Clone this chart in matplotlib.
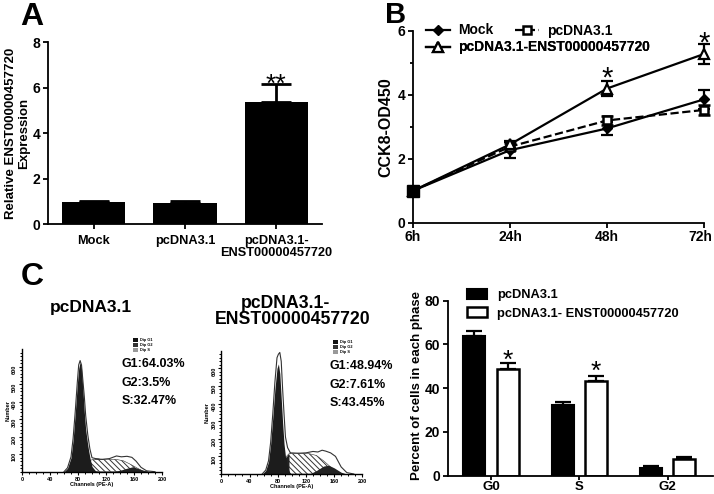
import matplotlib
matplotlib.use('Agg')
import matplotlib.pyplot as plt
from matplotlib.transforms import ScaledTranslation

plt.rcParams['font.family'] = ['Liberation Sans', 'DejaVu Sans']
plt.rcParams['font.weight'] = 'bold'
plt.rcParams['axes.labelweight'] = 'bold'
plt.rcParams['hatch.linewidth'] = 0.7

W, H = 714, 494

# panel A
a_labels = ['Mock', 'pcDNA3.1', 'pcDNA3.1-\nENST00000457720']
a_vals = [1.0, 0.95, 5.4]
a_errs = [0.05, 0.07, 0.78]

# panel B
b_times = ['6h', '24h', '48h', '72h']
mock_vals = [1.0, 2.27, 2.95, 3.86]
mock_errs = [0.05, 0.25, 0.2, 0.3]
pc_vals = [1.0, 2.38, 3.2, 3.53]
pc_errs = [0.05, 0.12, 0.15, 0.15]
enst_vals = [1.0, 2.45, 4.2, 5.28]
enst_errs = [0.05, 0.1, 0.22, 0.3]

# panel C bars
c_phases = ['G0', 'S', 'G2']
c_pc = [64, 32.5, 3.5]
c_pc_err = [2, 1.3, 0.8]
c_enst = [49, 43.5, 7.5]
c_enst_err = [2.5, 2.3, 1]

# histogram left
h1_ch = [60, 65, 70, 73, 76, 79, 81, 83, 85, 87, 89, 91, 94, 97, 100, 105, 110]
h1_g1 = [0, 20, 80, 180, 330, 500, 590, 625, 590, 470, 340, 240, 150, 80, 30, 5, 0]
h1_out = [0, 22, 85, 190, 340, 510, 610, 635, 610, 520, 430, 320, 210, 130, 80, 75, 72]
h1_s_ch = [75, 82, 90, 97, 105, 120, 135, 145, 155, 165, 172, 180]
h1_s = [0, 8, 35, 65, 72, 72, 70, 62, 42, 20, 5, 0]
h1_g2_ch = [130, 140, 150, 158, 165, 175, 185]
h1_g2 = [0, 8, 20, 28, 20, 5, 0]
h1_top_ch = [105, 115, 125, 135, 142, 150, 157, 163, 170, 178, 190]
h1_top = [72, 70, 75, 90, 85, 88, 82, 60, 25, 5, 0]
h1_text = ['G1:64.03%', 'G2:3.5%', 'S:32.47%']

# histogram right
h2_ch = [58, 63, 67, 70, 73, 76, 79, 81, 83, 85, 87, 89, 91, 94, 98]
h2_g1 = [0, 20, 70, 170, 320, 480, 600, 625, 570, 430, 290, 170, 100, 40, 0]
h2_out = [0, 22, 75, 180, 340, 520, 660, 680, 690, 640, 480, 340, 210, 150, 120]
h2_s_ch = [72, 78, 84, 90, 96, 110, 125, 135, 145, 155, 165, 172]
h2_s = [0, 15, 50, 90, 115, 118, 115, 105, 75, 40, 12, 0]
h2_g2_ch = [125, 135, 145, 152, 160, 170, 178]
h2_g2 = [0, 20, 45, 50, 35, 10, 0]
h2_top_ch = [98, 110, 120, 130, 137, 143, 148, 155, 162, 170, 178, 188]
h2_top = [120, 118, 120, 128, 125, 135, 130, 120, 100, 40, 8, 0]
h2_text = ['G1:48.94%', 'G2:7.61%', 'S:43.45%']

fig = plt.figure(figsize=(W / 100, H / 100), dpi=100, facecolor='white')


def px_axes(left, top, right, bottom):
    ax = fig.add_axes([left / W, 1 - bottom / H, (right - left) / W, (bottom - top) / H])
    ax.patch.set_alpha(0)
    for s in ['top', 'right']:
        ax.spines[s].set_visible(False)
    for s in ['left', 'bottom']:
        ax.spines[s].set_linewidth(1.3)
    ax.tick_params(width=1.3, length=3.5, labelsize=9, pad=2)
    return ax


def px_text(x, y, s, **kw):
    fig.text(x / W, 1 - y / H, s, **kw)


# A
ax = px_axes(48, 42.3, 322, 224.5)
ax.bar(range(3), a_vals, width=0.69, color='black')
ax.errorbar(range(3), a_vals, yerr=[[0, 0, 0], a_errs], fmt='none', ecolor='black',
            elinewidth=2, capsize=11, capthick=2)
ax.set_xlim(-0.5, 2.5)
ax.set_ylim(0, 8)
ax.set_yticks([0, 2, 4, 6, 8])
ax.set_xticks(range(3))
ax.set_xticklabels(a_labels, fontsize=9.2, linespacing=1.0)
ax.tick_params(axis='x', pad=4)
ax.tick_params(axis='y', labelsize=10)
ax.set_ylabel('Relative ENST00000457720\nExpression', fontsize=9.5, linespacing=1.05, labelpad=2)
ax.text(2, 6.15, '**', ha='center', va='center', fontsize=19, fontweight='normal')

# B
ax = px_axes(413, 31, 704, 222.7)
x = range(4)
mock_line = ax.errorbar(x, mock_vals, yerr=mock_errs, color='black', lw=1.6, marker='D', ms=5,
                        capsize=4, capthick=1.6, elinewidth=1.6, clip_on=False, zorder=3)
pc_line = ax.errorbar(x, pc_vals, yerr=pc_errs, color='black', lw=1.6, ls='--', marker='s', ms=6,
                      mfc='white', mew=1.8, capsize=4, capthick=1.6, elinewidth=1.6,
                      clip_on=False, zorder=4)
enst_line = ax.errorbar(x, enst_vals, yerr=enst_errs, color='black', lw=1.6, marker='^', ms=7,
                        mfc='white', mew=1.6, capsize=4, capthick=1.6, elinewidth=1.6,
                        clip_on=False, zorder=5)
ax.plot(0, 1, marker='s', color='black', ms=9, clip_on=False, zorder=6)
ax.set_xlim(0, 3)
ax.set_ylim(0, 6)
ax.set_xticks(list(x))
ax.set_xticklabels(b_times, fontsize=10)
ax.set_yticks([0, 2, 4, 6])
ax.set_yticks([1, 3, 5], minor=True)
ax.tick_params(axis='y', which='minor', width=1.3, length=2.5)
ax.tick_params(axis='y', labelsize=10)
last = ax.get_xticklabels()[-1]
last.set_transform(last.get_transform() + ScaledTranslation(-0.04, 0, fig.dpi_scale_trans))
ax.set_ylabel('CCK8-OD450', fontsize=11.5, labelpad=3)
ax.text(2, 4.5, '*', ha='center', va='center', fontsize=21, fontweight='normal')
ax.text(3, 5.6, '*', ha='center', va='center', fontsize=21, fontweight='normal', clip_on=False)
for h, lab, pos in [(mock_line[0], 'Mock', (426, 30.5)),
                    (pc_line[0], 'pcDNA3.1', (515, 30.5)),
                    (enst_line[0], 'pcDNA3.1-ENST00000457720', (426, 47.5))]:
    leg = ax.legend(handles=[h], labels=[lab], frameon=False, fontsize=10, handlelength=1.7,
                    handletextpad=0.6, borderpad=0, borderaxespad=0, loc='center left',
                    bbox_to_anchor=(pos[0] / W, 1 - pos[1] / H), bbox_transform=fig.transFigure)
    ax.add_artist(leg)

# C bars
ax = px_axes(448, 300.7, 713, 475.7)
xs = list(range(3))
off = 0.188
bw = 0.25
pc_pos = [i - off for i in xs]
enst_pos = [i + off for i in xs]
b1 = ax.bar(pc_pos, c_pc, width=bw, color='black', edgecolor='black', lw=1.5, label='pcDNA3.1')
b2 = ax.bar(enst_pos, c_enst, width=bw, color='white', edgecolor='black', lw=1.8,
            label='pcDNA3.1- ENST00000457720')
ax.errorbar(pc_pos, c_pc, yerr=[[0] * 3, c_pc_err], fmt='none', ecolor='black',
            elinewidth=1.6, capsize=6, capthick=1.6)
ax.errorbar(enst_pos, c_enst, yerr=[[0] * 3, c_enst_err], fmt='none', ecolor='black',
            elinewidth=1.6, capsize=6, capthick=1.6)
ax.set_xlim(-0.487, 2.515)
ax.set_ylim(0, 80)
ax.set_yticks([0, 20, 40, 60, 80])
ax.set_xticks(xs)
ax.set_xticklabels(c_phases, fontsize=9.5)
ax.tick_params(axis='x', length=3, pad=0.5)
ax.tick_params(axis='y', labelsize=10)
ax.set_ylabel('Percent of cells in each phase', fontsize=9.5, labelpad=1, y=0.515)
ax.text(enst_pos[0], 52.5, '*', ha='center', va='center', fontsize=19, fontweight='normal')
ax.text(enst_pos[1], 47.5, '*', ha='center', va='center', fontsize=19, fontweight='normal')
ax.legend(handles=[b1, b2], frameon=False, fontsize=9.3, loc='upper left', handlelength=1.55,
          handleheight=0.8, handletextpad=0.78, labelspacing=0.45, borderpad=0, borderaxespad=0,
          bbox_to_anchor=(467 / W, 1 - 289 / H), bbox_transform=fig.transFigure)


# C histograms
def histogram(left, right, top, y600, base, ch, g1, out, s_ch, s, g2_ch, g2, top_ch, top_line):
    ymax = 600 * (base - top) / (base - y600)
    ax = px_axes(left, top, right, base)
    for sp in ['left', 'bottom']:
        ax.spines[sp].set_linewidth(1.0)
    ax.fill_between(s_ch, s, color='white', hatch='\\\\\\\\\\\\', edgecolor='#333333', lw=0.4)
    ax.fill_between(s_ch, s, where=[c <= 98 for c in s_ch], color='#222222', lw=0)
    ax.fill_between(g2_ch, g2, color='#222222', lw=0)
    ax.fill_between(ch, g1, color='#1c1c1c', lw=0)
    ax.plot(ch, out, color='#333333', lw=0.8)
    ax.plot(top_ch, top_line, color='#333333', lw=0.8)
    ax.set_xlim(0, 200)
    ax.set_ylim(0, ymax)
    ax.set_xticks(range(0, 201, 40))
    ax.set_xticks(range(0, 201, 10), minor=True)
    ax.set_yticks(range(100, 601, 100))
    ax.set_yticks(range(0, 700, 20), minor=True)
    ax.tick_params(which='major', length=2.5, width=0.8, labelsize=4, pad=1)
    ax.tick_params(which='minor', length=1.3, width=0.7)
    ax.tick_params(axis='y', labelrotation=90)
    ax.set_xlabel('Channels (PE-A)', fontsize=4, labelpad=0)
    ax.set_ylabel('Number', fontsize=4, labelpad=1)
    return ax


histogram(22, 162, 349, 366.7, 471.7, h1_ch, h1_g1, h1_out, h1_s_ch, h1_s,
          h1_g2_ch, h1_g2, h1_top_ch, h1_top)
histogram(221.3, 362.3, 351, 368.3, 474, h2_ch, h2_g1, h2_out, h2_s_ch, h2_s,
          h2_g2_ch, h2_g2, h2_top_ch, h2_top)

for lx, ly, names, colors in [(133, 340, ['Dip G1', 'Dip G2', 'Dip S'], ['#111111', '#333333', '#999999']),
                              (333, 342, ['Dip G1', 'Dip G2', 'Dip S'], ['#111111', '#333333', '#999999'])]:
    for i, (n, c) in enumerate(zip(names, colors)):
        fig.patches.append(plt.Rectangle((lx / W, 1 - (ly + i * 5 + 2) / H), 5 / W, 4.5 / H,
                                         transform=fig.transFigure, color=c, lw=0))
        px_text(lx + 7, ly + i * 5, n, fontsize=2.8, va='center', ha='left')

for i, t in enumerate(h1_text):
    px_text(122, 364 + i * 18.5, t, fontsize=9, va='center', ha='left')
for i, t in enumerate(h2_text):
    px_text(330, 366 + i * 18.5, t, fontsize=9, va='center', ha='left')

px_text(91, 307, 'pcDNA3.1', fontsize=12.5, ha='center', va='center')
px_text(286, 303, 'pcDNA3.1-', fontsize=12.7, ha='center', va='center')
px_text(293, 319, 'ENST00000457720', fontsize=12.7, ha='center', va='center')

# panel letters
px_text(32, 17, 'A', fontsize=23, ha='center', va='center')
px_text(396, 15, 'B', fontsize=21, ha='center', va='center')
px_text(32, 277, 'C', fontsize=23, ha='center', va='center')

fig.savefig('out.png', dpi=100)
